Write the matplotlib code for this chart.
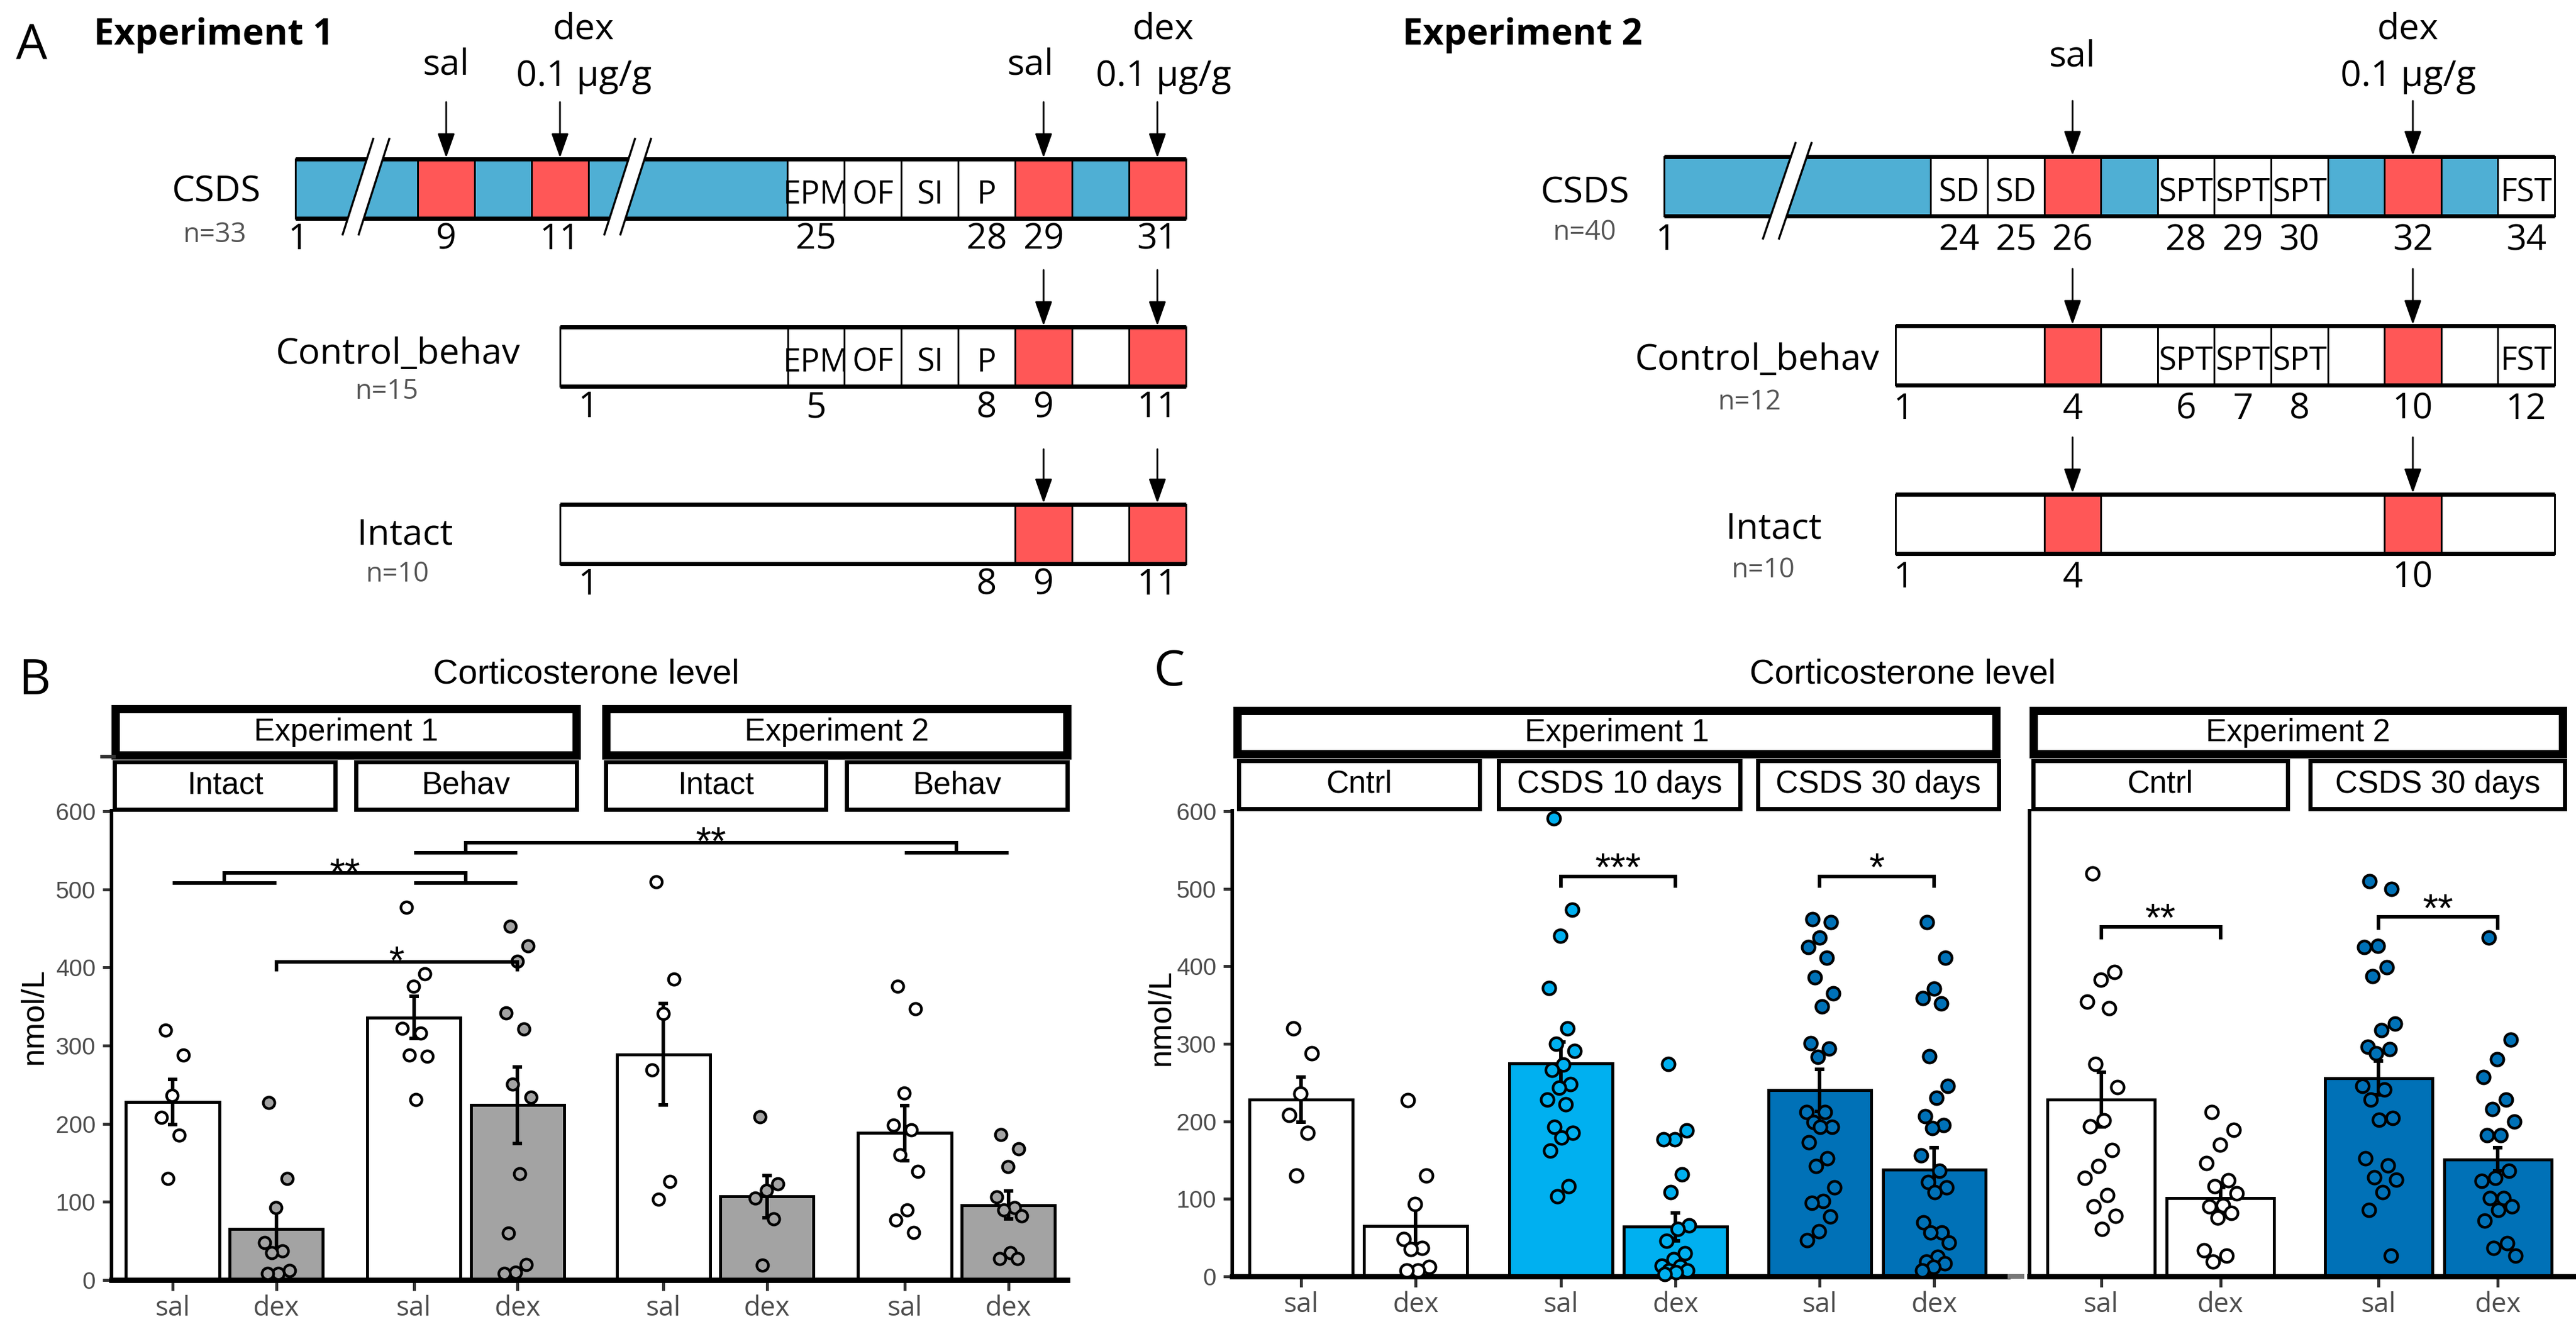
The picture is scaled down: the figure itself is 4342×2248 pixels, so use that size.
import numpy as np
import matplotlib
matplotlib.use('Agg')
import matplotlib.pyplot as plt
from matplotlib.patches import Rectangle, Polygon
from matplotlib import font_manager as fm

W, H, DPI = 4342, 2248, 100

_avail = {f.name for f in fm.fontManager.ttflist}
def fam(*names):
    return [n for n in names if n in _avail] + ['DejaVu Sans']
FA = fam('Open Sans', 'Noto Sans')
FB = fam('Liberation Sans', 'Arimo')

def PT(px):
    return px * 72.0 / DPI

# ============================ DATA ============================
# ---- Panel A: timelines. kinds: 'b' CSDS day, 'r' injection day, 'w' no stress
A1_csds_kind = ['b', 'r', 'b', 'r', 'b', 'w', 'w', 'w', 'w', 'r', 'b', 'r']
A1_csds_len = [2.15, 1, 1, 1, 3.5, 1, 1, 1, 1, 1, 1, 1]
A1_csds_txt = ['', '', '', '', '', 'EPM', 'OF', 'SI', 'P', '', '', '']
A1_csds_day = ['1', '9', '11', '25', '28', '29', '31']
A1_csds_pos = [0.05, 2.65, 4.65, 9.15, 12.15, 13.15, 15.15]
A1_ctrl_kind = ['w', 'w', 'w', 'w', 'w', 'r', 'w', 'r']
A1_ctrl_len = [4, 1, 1, 1, 1, 1, 1, 1]
A1_ctrl_txt = ['', 'EPM', 'OF', 'SI', 'P', '', '', '']
A1_ctrl_day = ['1', '5', '8', '9', '11']
A1_ctrl_pos = [0.5, 4.5, 7.5, 8.5, 10.5]
A1_int_kind = ['w', 'r', 'w', 'r']
A1_int_len = [8, 1, 1, 1]
A1_int_txt = ['', '', '', '']
A1_int_day = ['1', '8', '9', '11']
A1_int_pos = [0.5, 7.5, 8.5, 10.5]
A1_breaks = [1.24, 5.84]
A1_inj = ['sal', 'dex', 'sal', 'dex']

A2_csds_kind = ['b', 'w', 'w', 'r', 'b', 'w', 'w', 'w', 'b', 'r', 'b', 'w']
A2_csds_len = [4.7, 1, 1, 1, 1, 1, 1, 1, 1, 1, 1, 1]
A2_csds_txt = ['', 'SD', 'SD', '', '', 'SPT', 'SPT', 'SPT', '', '', '', 'FST']
A2_csds_day = ['1', '24', '25', '26', '28', '29', '30', '32', '34']
A2_csds_pos = [0.03, 5.2, 6.2, 7.2, 9.2, 10.2, 11.2, 13.2, 15.2]
A2_ctrl_kind = ['w', 'r', 'w', 'w', 'w', 'w', 'w', 'r', 'w', 'w']
A2_ctrl_len = [2.62, 1, 1, 1, 1, 1, 1, 1, 1, 1]
A2_ctrl_txt = ['', '', '', 'SPT', 'SPT', 'SPT', '', '', '', 'FST']
A2_ctrl_day = ['1', '4', '6', '7', '8', '10', '12']
A2_ctrl_pos = [0.14, 3.12, 5.12, 6.12, 7.12, 9.12, 11.12]
A2_int_kind = ['w', 'r', 'w', 'r', 'w']
A2_int_len = [2.62, 1, 5, 1, 2]
A2_int_txt = ['', '', '', '', '']
A2_int_day = ['1', '4', '10']
A2_int_pos = [0.14, 3.12, 9.12]
A2_breaks = [2.17]
A2_inj = ['sal', 'dex']

A1_groups = ['CSDS', 'Control_behav', 'Intact']
A1_n = ['n=33', 'n=15', 'n=10']
A2_groups = ['CSDS', 'Control_behav', 'Intact']
A2_n = ['n=40', 'n=12', 'n=10']

# ---- Panel B
B_top = ['Experiment 1', 'Experiment 2']
B_sub = ['Intact', 'Behav', 'Intact', 'Behav']
B_treat = ['sal', 'dex']
B_mean = [228, 65, 336, 224, 289, 107, 188, 96]
B_sem = [29, 30, 27, 49, 65, 27, 35, 18]
B_p1 = [320, 288, 236, 208, 185, 130]
B_p2 = [227, 130, 93, 48, 37, 35, 12, 8, 8]
B_p3 = [477, 392, 376, 322, 316, 288, 286, 231]
B_p4 = [453, 428, 408, 342, 321, 251, 234, 136, 60, 20, 10, 8]
B_p5 = [510, 385, 341, 269, 126, 103]
B_p6 = [209, 123, 115, 105, 78, 19]
B_p7 = [376, 347, 239, 198, 192, 160, 139, 90, 77, 61]
B_p8 = [186, 168, 145, 106, 93, 90, 82, 35, 27, 27]

# ---- Panel C
C1_sub = ['Cntrl', 'CSDS 10 days', 'CSDS 30 days']
C1_mean = [228, 65, 275, 64, 240, 138]
C1_sem = [29, 30, 27, 18, 27, 28]
C1_p1 = [320, 288, 236, 208, 185, 130]
C1_p2 = [227, 130, 93, 48, 37, 35, 12, 8, 8]
C1_p3 = [591, 473, 439, 372, 320, 300, 291, 273, 266, 248, 243, 228, 222, 193, 185, 179, 162, 116, 103]
C1_p4 = [274, 188, 177, 177, 132, 109, 66, 61, 46, 30, 22, 14, 13, 8, 8, 5, 3]
C1_p5 = [461, 457, 437, 425, 411, 386, 365, 348, 301, 294, 283, 212, 212, 199, 193, 193, 173, 152, 142,
         115, 97, 95, 77, 58, 47]
C1_p6 = [457, 411, 371, 359, 352, 284, 246, 230, 207, 195, 191, 156, 136, 122, 115, 109, 70, 57, 57, 44,
         25, 19, 17, 12, 8]
C2_sub = ['Cntrl', 'CSDS 30 days']
C2_mean = [228, 101, 256, 151]
C2_sem = [35, 14, 22, 15]
C2_p1 = [520, 393, 383, 354, 346, 274, 244, 201, 194, 163, 142, 127, 105, 90, 78, 61]
C2_p2 = [212, 189, 170, 146, 124, 116, 107, 92, 90, 82, 76, 34, 27, 19]
C2_p3 = [510, 500, 426, 425, 399, 387, 326, 318, 296, 293, 288, 246, 241, 228, 204, 202, 152, 143, 128,
         125, 109, 86, 27]
C2_p4 = [437, 305, 280, 257, 228, 216, 200, 182, 182, 136, 127, 123, 101, 101, 90, 86, 72, 43, 37, 27]

C_WHITE, C_LIGHT, C_DARK, B_GRAY = 'white', '#00B0F0', '#0071B7', '#A3A3A3'

# ============================ FIGURE ============================
fig = plt.figure(figsize=(W / DPI, H / DPI), dpi=DPI)
fig.patch.set_facecolor('white')

ov = fig.add_axes([0, 0, 1, 1], zorder=20)
ov.set_xlim(0, W)
ov.set_ylim(H, 0)
ov.axis('off')

A_COL = {'b': '#4FAFD4', 'r': '#FF5757', 'w': 'white'}


def draw_row(x_right, cell, y_top, kinds, lens, txts, days, dpos, day_off, h=100):
    x_start = x_right - sum(lens) * cell
    x = x_start
    reds = []
    for k, L, t in zip(kinds, lens, txts):
        w = L * cell
        ov.add_patch(Rectangle((x, y_top), w, h, facecolor=A_COL[k], edgecolor='black',
                               lw=PT(3), zorder=1))
        if t:
            ov.text(x + w / 2, y_top + 75, t, fontsize=39, family=FA, ha='center',
                    va='baseline', zorder=3)
        if k == 'r':
            reds.append(x + w / 2)
        x += w
    for yy in (y_top, y_top + h):
        ov.plot([x_start, x], [yy, yy], color='black', lw=PT(7), solid_capstyle='butt', zorder=2)
    for lbl, p in zip(days, dpos):
        ov.text(x_start + p * cell, y_top + h + day_off, lbl, fontsize=43, family=FA,
                ha='center', va='baseline', zorder=3)
    return x_start, reds


def draw_break(xc, y0, y1, slope=0.33, gap=27):
    hh = (y1 - y0) / 2.0
    ym = (y0 + y1) / 2.0
    pts = []
    for sgn in (-1, 1):
        xm = xc + sgn * gap / 2.0
        pts.append(((xm - slope * hh, y1), (xm + slope * hh, y0)))
    (a0, a1), (b0, b1) = pts
    ov.add_patch(Polygon([a0, a1, b1, b0], closed=True, facecolor='white', edgecolor='none', zorder=5))
    for p0, p1 in pts:
        ov.plot([p0[0], p1[0]], [p0[1], p1[1]], color='black', lw=PT(3.5), zorder=6)


def arrow(x, y0, y1):
    ov.annotate('', xy=(x, y1), xytext=(x, y0),
                arrowprops=dict(arrowstyle='-|>,head_length=1.7,head_width=0.6', mutation_scale=15,
                                lw=PT(3), color='black', shrinkA=0, shrinkB=0), zorder=4)


# ---- Panel A, Experiment 1
E1_right, E1_cell = 1998.8, 95.9
E1_tops = [268, 551, 850]
E1_arrow_start = [172, 455, 757]
rows1 = [(A1_csds_kind, A1_csds_len, A1_csds_txt, A1_csds_day, A1_csds_pos),
         (A1_ctrl_kind, A1_ctrl_len, A1_ctrl_txt, A1_ctrl_day, A1_ctrl_pos),
         (A1_int_kind, A1_int_len, A1_int_txt, A1_int_day, A1_int_pos)]
lab1 = [(364, 339, 362, 408), (670, 613, 652, 672), (683, 917, 670, 980)]
for i, (r, top) in enumerate(zip(rows1, E1_tops)):
    xs, reds = draw_row(E1_right, E1_cell, top, *r, day_off=52)
    for xr in reds:
        arrow(xr, E1_arrow_start[i], top - 2)
    lx, ly, nx, ny = lab1[i]
    ov.text(lx, ly, A1_groups[i], fontsize=44, family=FA, ha='center', va='baseline')
    ov.text(nx, ny, A1_n[i], fontsize=33, family=FA, ha='center', va='baseline', color='#555555')
    if i == 0:
        for b in A1_breaks:
            draw_break(xs + b * E1_cell, top - 34, top + 127, slope=0.32)
        dx_txt = [0, 40, -22, 10]
        for xr, lbl, dx in zip(reds, A1_inj, dx_txt):
            if lbl == 'sal':
                ov.text(xr + dx, 126, 'sal', fontsize=44, family=FA, ha='center', va='baseline')
            else:
                ov.text(xr + dx, 65, 'dex', fontsize=44, family=FA, ha='center', va='baseline')
                ov.text(xr + dx, 145, '0.1 µg/g', fontsize=44, family=FA, ha='center', va='baseline')

# ---- Panel A, Experiment 2
E2_right, E2_cell = 4306, 95.6
E2_tops = [264, 549, 833]
E2_arrow_start = [170, 453, 737]
rows2 = [(A2_csds_kind, A2_csds_len, A2_csds_txt, A2_csds_day, A2_csds_pos),
         (A2_ctrl_kind, A2_ctrl_len, A2_ctrl_txt, A2_ctrl_day, A2_ctrl_pos),
         (A2_int_kind, A2_int_len, A2_int_txt, A2_int_day, A2_int_pos)]
lab2 = [(2671, 341, 2671, 404), (2961, 623, 2949, 690), (2990, 908, 2972, 973)]
for i, (r, top) in enumerate(zip(rows2, E2_tops)):
    xs, reds = draw_row(E2_right, E2_cell, top, *r, day_off=57)
    for xr in reds:
        arrow(xr, E2_arrow_start[i], top - 2)
    lx, ly, nx, ny = lab2[i]
    ov.text(lx, ly, A2_groups[i], fontsize=44, family=FA, ha='center', va='baseline')
    ov.text(nx, ny, A2_n[i], fontsize=33, family=FA, ha='center', va='baseline', color='#555555')
    if i == 0:
        for b in A2_breaks:
            draw_break(xs + b * E2_cell, top - 23, top + 138, slope=0.34)
        for xr, lbl in zip(reds, A2_inj):
            if lbl == 'sal':
                ov.text(xr, 111, 'sal', fontsize=44, family=FA, ha='center', va='baseline')
            else:
                ov.text(xr - 8, 65, 'dex', fontsize=44, family=FA, ha='center', va='baseline')
                ov.text(xr - 8, 145, '0.1 µg/g', fontsize=44, family=FA, ha='center', va='baseline')

ov.text(27, 100, 'A', fontsize=60, family=FA, va='baseline')
ov.text(158, 75, 'Experiment 1', fontsize=44, fontweight='bold', family=FA, va='baseline')
ov.text(2364, 75, 'Experiment 2', fontsize=44, fontweight='bold', family=FA, va='baseline')


# ============================ Panels B, C ============================
def make_axes(px_box, xmax):
    x0, y0, x1, y1 = px_box
    ax = fig.add_axes([x0 / W, 1 - y1 / H, (x1 - x0) / W, (y1 - y0) / H])
    ax.set_xlim(0, xmax)
    ax.set_ylim(0, 600.8)
    ax._pxbox = px_box
    ax._xmax = xmax
    return ax


def xpx(ax, x):
    x0, _, x1, _ = ax._pxbox
    return x0 + x * (x1 - x0) / ax._xmax


def style_axes(ax, xs, yticks=True):
    for s in ('top', 'right'):
        ax.spines[s].set_visible(False)
    ax.spines['left'].set_linewidth(PT(6))
    ax.spines['bottom'].set_linewidth(PT(9))
    ax.set_xticks(xs)
    ax.set_xticklabels(B_treat * (len(xs) // 2), fontsize=33, family=FA, color='#4D4D4D')
    ax.tick_params(axis='x', length=PT(18), width=PT(5), color='#333333', pad=PT(7))
    if yticks:
        ax.set_yticks(np.arange(0, 601, 100))
        ax.set_yticklabels([str(v) for v in range(0, 601, 100)], fontsize=29, family=FB,
                           color='#4D4D4D')
        ax.tick_params(axis='y', length=PT(15), width=PT(5), color='#333333', pad=PT(12))
    else:
        ax.tick_params(axis='y', left=False, labelleft=False)
    ax.patch.set_alpha(0)


def draw_bars(ax, xs, means, sems, pts, fills, ms, jw):
    ax.bar(xs, means, width=0.9, color=fills, edgecolor='black', linewidth=PT(5), zorder=2)
    ax.errorbar(xs, means, yerr=sems, fmt='none', ecolor='black', elinewidth=PT(6),
                capsize=PT(8), capthick=PT(6), zorder=3)
    for x, v, fc in zip(xs, pts, fills):
        v = np.asarray(v, float)
        j = ((np.arange(len(v)) * 0.618034 + 0.25) % 1.0 - 0.5) * jw
        ax.scatter(x + j, v, s=ms ** 2, facecolor=fc, edgecolor='black', linewidths=PT(4.5),
                   zorder=4, clip_on=False)


def strip(x0, x1, y0, y1, lwpx, text, fs=38):
    ov.add_patch(Rectangle((x0 + lwpx / 2, y0 + lwpx / 2), (x1 - x0) - lwpx, (y1 - y0) - lwpx,
                           facecolor='white', edgecolor='black', lw=PT(lwpx), joinstyle='miter',
                           zorder=1))
    ov.text((x0 + x1) / 2, (y0 + y1) / 2, text, fontsize=fs, family=FB, ha='center', va='center',
            zorder=3)


def pair_bracket(ax, xa, xb, ytop, yend, label, ytxt):
    ax.plot([xa, xa, xb, xb], [yend, ytop, ytop, yend], color='black', lw=PT(6), clip_on=False,
            zorder=5, solid_joinstyle='miter', solid_capstyle='butt')
    ax.text((xa + xb) / 2, ytxt, label, ha='center', va='baseline', fontsize=48, family=FB, zorder=6)


def group_bracket(ax, g1, g2, ylow, yhigh, label, ytxt):
    for a, b in (g1, g2):
        ax.plot([a, b], [ylow, ylow], color='black', lw=PT(6), clip_on=False, zorder=5,
                solid_capstyle='butt')
    m1, m2 = sum(g1) / 2.0, sum(g2) / 2.0
    ax.plot([m1, m1, m2, m2], [ylow, yhigh, yhigh, ylow], color='black', lw=PT(6), clip_on=False,
            zorder=5, solid_joinstyle='miter', solid_capstyle='butt')
    ax.text((m1 + m2) / 2, ytxt, label, ha='center', va='baseline', fontsize=48, family=FB, zorder=6)


# ---- Panel B
axB = make_axes((188, 1366, 1799, 2157), 9.23)
B_off = [0.0, 2.33, 4.74, 7.07]
B_in = [0.59, 1.59]
xB = np.array([o + d for o in B_off for d in B_in])
B_fill = [C_WHITE, B_GRAY] * 4
draw_bars(axB, xB, B_mean, B_sem, [B_p1, B_p2, B_p3, B_p4, B_p5, B_p6, B_p7, B_p8], B_fill, 14, 0.28)
style_axes(axB, xB)
group_bracket(axB, (xB[0], xB[1]), (xB[2], xB[3]), 508, 521, '**', 505)
group_bracket(axB, (xB[2], xB[3]), (xB[6], xB[7]), 547, 560, '**', 545)
pair_bracket(axB, xB[1], xB[3], 407, 395, '*', 392)

for k, name in enumerate(B_sub):
    strip(xpx(axB, B_off[k] + 0.01), xpx(axB, B_off[k] + 2.18), 1280, 1367, 7, name)
for k, name in enumerate(B_top):
    strip(xpx(axB, B_off[2 * k] + 0.0), xpx(axB, B_off[2 * k + 1] + 2.2), 1188, 1280, 14, name)
ov.plot([172, 192], [1275, 1275], color='#333333', lw=PT(6))

ov.text(32, 1170, 'B', fontsize=60, family=FA, va='baseline')
ov.text(988, 1151, 'Corticosterone level', fontsize=42, family=FB, ha='center', va='baseline')
ov.text(57, 1713, 'nmol/L', fontsize=39, family=FB, rotation=90, ha='center', va='center')

# ---- Panel C, Experiment 1
axC1 = make_axes((2077, 1366, 3384, 2151), 6.77)
C1_off = [0.0, 2.27, 4.53]
C1_in = [0.60, 1.60]
xC1 = np.array([o + d for o in C1_off for d in C1_in])
C1_fill = [C_WHITE, C_WHITE, C_LIGHT, C_LIGHT, C_DARK, C_DARK]
draw_bars(axC1, xC1, C1_mean, C1_sem, [C1_p1, C1_p2, C1_p3, C1_p4, C1_p5, C1_p6], C1_fill, 15.5, 0.26)
style_axes(axC1, xC1)
pair_bracket(axC1, xC1[2], xC1[3], 516, 501, '***', 511)
pair_bracket(axC1, xC1[4], xC1[5], 516, 501, '*', 511)
for k, name in enumerate(C1_sub):
    strip(xpx(axC1, C1_off[k] + 0.04), xpx(axC1, C1_off[k] + 2.18), 1278, 1366, 7, name)
strip(xpx(axC1, 0.01), xpx(axC1, C1_off[-1] + 2.18), 1191, 1278, 14, B_top[0])
ov.plot([3388, 3408], [2151, 2151], color='#777777', lw=PT(8))

# ---- Panel C, Experiment 2
axC2 = make_axes((3421, 1366, 4342, 2151), 4.582)
C2_off = [0.0, 2.326]
C2_in = [0.60, 1.60]
xC2 = np.array([o + d for o in C2_off for d in C2_in])
C2_fill = [C_WHITE, C_WHITE, C_DARK, C_DARK]
draw_bars(axC2, xC2, C2_mean, C2_sem, [C2_p1, C2_p2, C2_p3, C2_p4], C2_fill, 15.5, 0.30)
style_axes(axC2, xC2, yticks=False)
pair_bracket(axC2, xC2[0], xC2[1], 451, 435, '**', 446)
pair_bracket(axC2, xC2[2], xC2[3], 464, 447, '**', 458)
for k, name in enumerate(C2_sub):
    strip(xpx(axC2, C2_off[k] + 0.01), xpx(axC2, C2_off[k] + 2.18), 1278, 1366, 7, name)
strip(xpx(axC2, 0.0), xpx(axC2, C2_off[-1] + 2.18), 1191, 1278, 14, B_top[1])

ov.text(1945, 1155, 'C', fontsize=60, family=FA, va='baseline')
ov.text(3207, 1151, 'Corticosterone level', fontsize=42, family=FB, ha='center', va='baseline')
ov.text(1957, 1715, 'nmol/L', fontsize=39, family=FB, rotation=90, ha='center', va='center')

fig.savefig('out.png', dpi=DPI, facecolor='white')
